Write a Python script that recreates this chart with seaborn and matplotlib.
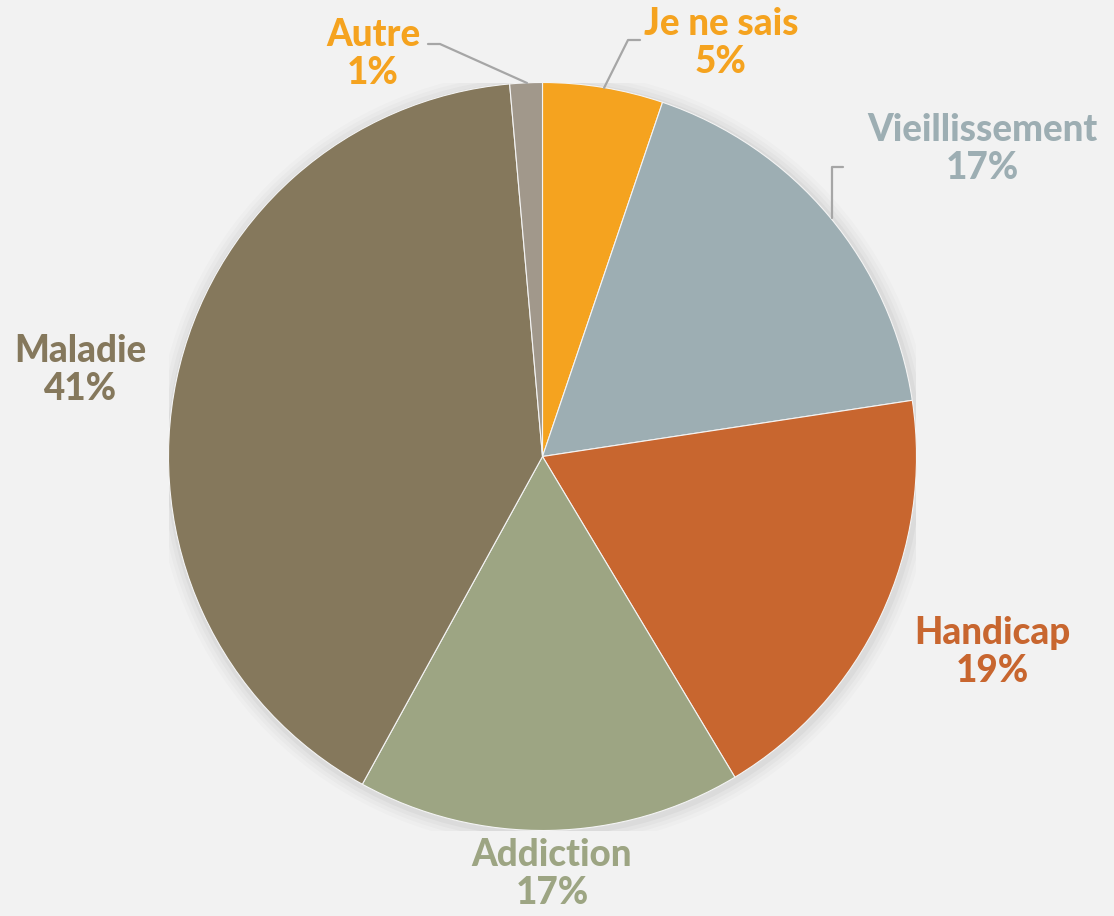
import matplotlib
matplotlib.use("Agg")
import matplotlib.pyplot as plt
import seaborn as sns
from matplotlib.patches import Circle

# data (clockwise from the top)
categories = ["Je ne sais", "Vieillissement", "Handicap", "Addiction", "Maladie", "Autre"]
shares = [5.2, 17.4, 18.8, 16.6, 40.6, 1.4]
colors = ["#F5A31F", "#9DAEB3", "#C8662F", "#9DA583", "#85785C", "#A1988B"]
label_colors = ["#F5A31F", "#9DAEB3", "#C8662F", "#9DA583", "#85785C", "#F5A31F"]

# label anchor positions (pixels in the 1114x916 image) and leader lines
label_pos = {
    "Je ne sais": (721, 43),
    "Vieillissement": (982, 149),
    "Handicap": (992, 652),
    "Addiction": (552, 874),
    "Maladie": (80, 370),
    "Autre": (373, 54),
}
leaders = {
    "Je ne sais": [(640, 40), (628, 40), (604, 88)],
    "Vieillissement": [(843, 167), (832, 167), (832, 218)],
    "Autre": [(428, 44), (440, 44), (527, 83)],
}

BG = "#F2F2F2"
W, H = 1114, 916
CX, CY, R = 542.5, 456.5, 374.0

sns.set_theme(style="white")
plt.rcParams["font.family"] = ["Lato", "DejaVu Sans"]

fig = plt.figure(figsize=(W / 100, H / 100), dpi=100, facecolor=BG)
ax = fig.add_axes([(CX - R) / W, (H - CY - R) / H, 2 * R / W, 2 * R / H])
ax.set_facecolor(BG)


def to_data(px, py):
    return (px - CX) / R, (CY - py) / R


# soft shadow around the pie
for i, a in enumerate([0.015, 0.02, 0.025, 0.03]):
    ax.add_patch(Circle((0.004, -0.006), 1.0 + 0.01 * (4 - i), color="black",
                        alpha=a, lw=0, zorder=0))

ax.pie(shares, colors=colors, startangle=90, counterclock=False, radius=1.0,
       wedgeprops=dict(edgecolor="#F4F4F4", linewidth=0.8))

ax.set_xlim(-1, 1)
ax.set_ylim(-1, 1)
ax.set_aspect("equal")
ax.axis("off")

for name, share, col in zip(categories, shares, label_colors):
    x, y = to_data(*label_pos[name])
    ax.text(x, y, f"{name}\n{share:.0f}%", color=col, fontsize=26.5,
            fontweight="black", ha="center", va="center", linespacing=1.13,
            clip_on=False)

for name, pts in leaders.items():
    xs, ys = zip(*[to_data(px, py) for px, py in pts])
    ax.plot(xs, ys, color="#A6A6A6", lw=1.6, clip_on=False, zorder=5)

fig.savefig("out.png", dpi=100, facecolor=BG)
